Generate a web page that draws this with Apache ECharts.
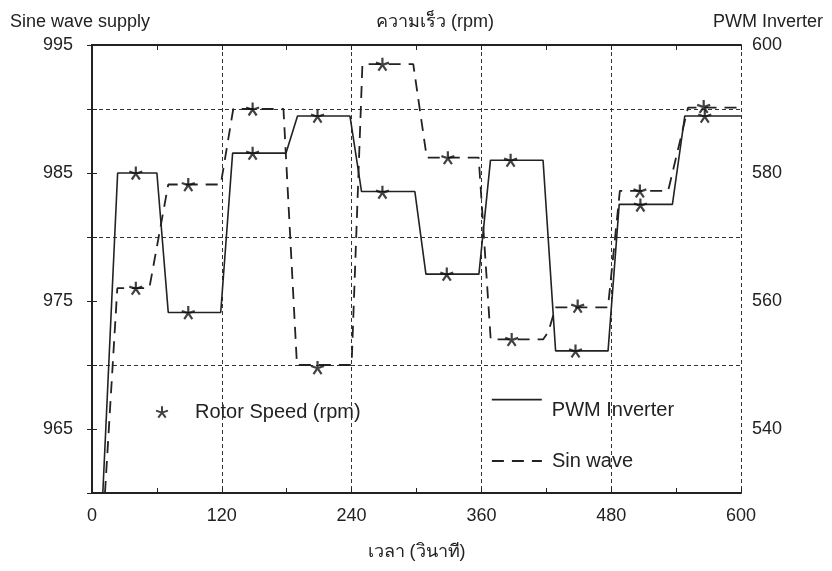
<!DOCTYPE html>
<html>
<head>
<meta charset="utf-8">
<script src="https://cdn.jsdelivr.net/npm/echarts@6/dist/echarts.min.js"></script>
<style>html,body{margin:0;padding:0;background:#fff}#c{width:832px;height:571px}</style>
</head>
<body>
<div id="c"></div>
<script>
// ---- data (time in seconds, speed in rpm) ----
// PWM Inverter (right axis)
const pwmTime  = [10, 23.7, 60, 70.5, 119, 130, 179.3, 190, 238.5, 249.2, 298.5, 308.7, 357.7, 368.4, 417, 428.6, 477.1, 487.4, 536.6, 548, 600];
const pwmSpeed = [530, 580, 580, 558.2, 558.2, 583.1, 583.1, 588.9, 588.9, 577.1, 577.1, 564.2, 564.2, 582, 582, 552.2, 552.2, 575.1, 575.1, 588.9, 588.9];
// Sine wave supply (left axis)
const sinTime  = [12, 23.4, 53, 70.5, 119, 130.6, 177, 189.5, 240, 250, 297, 309.5, 357.5, 368.6, 417, 422, 428.5, 477, 488, 532.6, 551, 600];
const sinSpeed = [960, 976, 976, 984.1, 984.1, 990, 990, 970, 970, 993.5, 993.5, 986.2, 986.2, 972, 972, 972.6, 974.5, 974.5, 983.6, 983.6, 990.1, 990.1];
// Rotor speed markers
const rotorSinTime  = [40.5, 89, 148.5, 208.5, 268.5, 329, 388, 449, 506.5, 565.5];
const rotorSinSpeed = [976, 984.1, 990, 969.8, 993.5, 986.2, 972, 974.6, 983.6, 990.2];
const rotorPwmTime  = [40.5, 89, 148.5, 208.5, 268.5, 328, 387, 447, 507, 566.5];
const rotorPwmSpeed = [580, 558.2, 583.1, 588.9, 577, 564.2, 582, 552.2, 575, 588.9];
// tick labels
const xTickLabels = [0, 120, 240, 360, 480, 600];
const leftTickLabels = [965, 975, 985, 995];
const rightTickLabels = [540, 560, 580, 600];

const zip = (a, b) => a.map((v, i) => [v, b[i]]);
const INK = '#222';
const FONT = '"Liberation Sans", Arial, Helvetica, "Noto Sans", sans-serif';
const STAR = 'path://M0,-10L0,0M0,0L9.51,-3.09M0,0L5.88,8.09M0,0L-5.88,8.09M0,0L-9.51,-3.09';

const chart = echarts.init(document.getElementById('c'), null, {renderer: 'canvas'});
const tickStyle = {inside: true, length: 5, lineStyle: {color: INK, width: 1}};
const axisLineStyle = {show: true, lineStyle: {color: INK, width: 2}};
const labelStyle = {color: INK, fontSize: 18, fontFamily: FONT};
const gridLine = {show: true, lineStyle: {color: '#333', width: 1, type: [4, 3]}};
const titleStyle = {fontSize: 18, fontWeight: 'normal', color: INK, fontFamily: FONT};

chart.setOption({
  animation: false,
  backgroundColor: '#fff',
  textStyle: {fontFamily: FONT},
  title: [
    {text: 'Sine wave supply', left: 5, top: 8, textStyle: titleStyle},
    {text: 'ความเร็ว (rpm)', left: 430, top: 8, textAlign: 'center', textStyle: titleStyle},
    {text: 'PWM Inverter', right: 4, top: 8, textStyle: titleStyle}
  ],
  grid: {left: 92, right: 91, top: 45, bottom: 78, containLabel: false},
  legend: [
    {data: ['Rotor Speed (rpm)'], left: 150, top: 397, selectedMode: false, itemWidth: 12, itemHeight: 12,
     formatter: '{t|{name}}',
     textStyle: {color: INK, fontFamily: FONT, rich: {t: {fontSize: 20, color: INK, fontFamily: FONT, padding: [0, 0, 0, 22]}}}},
    {data: ['PWM Inverter'], left: 486, top: 389, selectedMode: false, itemWidth: 50, itemHeight: 14,
     itemStyle: {opacity: 0}, lineStyle: {width: 1.6},
     formatter: '{t|{name}}',
     textStyle: {color: INK, fontFamily: FONT, rich: {t: {fontSize: 20, color: INK, fontFamily: FONT, padding: [22, 0, 0, 5]}}}},
    {data: ['Sin wave'], left: 486, top: 446, selectedMode: false, itemWidth: 50, itemHeight: 14,
     itemStyle: {opacity: 0}, lineStyle: {width: 1.8},
     formatter: '{t|{name}}',
     textStyle: {color: INK, fontFamily: FONT, rich: {t: {fontSize: 20, color: INK, fontFamily: FONT, padding: [0, 0, 0, 5]}}}}
  ],
  xAxis: [
    {type: 'value', min: 0, max: 600, interval: 120, position: 'bottom',
     name: 'เวลา (วินาที)', nameLocation: 'middle', nameGap: 50,
     nameTextStyle: {fontSize: 18, color: INK, fontFamily: FONT},
     axisLine: axisLineStyle, axisTick: tickStyle,
     minorTick: {show: true, splitNumber: 2, length: 5, lineStyle: {color: INK, width: 1}},
     axisLabel: Object.assign({margin: 14, formatter: v => xTickLabels.includes(v) ? String(v) : ''}, labelStyle),
     splitLine: gridLine},
    {type: 'value', min: 0, max: 600, interval: 120, position: 'top',
     axisLine: axisLineStyle, axisTick: tickStyle,
     minorTick: {show: true, splitNumber: 2, length: 5, lineStyle: {color: INK, width: 1}},
     axisLabel: {show: false}, splitLine: {show: false}}
  ],
  yAxis: [
    {type: 'value', min: 960, max: 995, interval: 5, position: 'left',
     axisLine: axisLineStyle, axisTick: tickStyle,
     axisLabel: Object.assign({margin: 19, formatter: v => leftTickLabels.includes(v) ? String(v) : ''}, labelStyle),
     splitLine: {show: false}},
    {type: 'value', min: 530, max: 600, interval: 10, position: 'right',
     axisLine: axisLineStyle, axisTick: tickStyle,
     axisLabel: Object.assign({margin: 11, formatter: v => rightTickLabels.includes(v) ? String(v) : ''}, labelStyle),
     splitLine: {show: false}},
    {type: 'value', min: 530, max: 600, interval: 20, position: 'right',
     axisLine: {show: false}, axisTick: {show: false}, axisLabel: {show: false},
     splitLine: gridLine}
  ],
  series: [
    {name: 'PWM Inverter', type: 'line', xAxisIndex: 0, yAxisIndex: 1, data: zip(pwmTime, pwmSpeed),
     symbol: 'none', lineStyle: {color: INK, width: 1.6}, itemStyle: {color: INK}, z: 3},
    {name: 'Sin wave', type: 'line', xAxisIndex: 0, yAxisIndex: 0, data: zip(sinTime, sinSpeed),
     symbol: 'none', lineStyle: {color: INK, width: 1.8, type: [12, 8]}, itemStyle: {color: INK}, z: 3},
    {name: 'Rotor Speed (rpm)', type: 'scatter', xAxisIndex: 0, yAxisIndex: 0, data: zip(rotorSinTime, rotorSinSpeed),
     symbol: STAR, symbolSize: 13, itemStyle: {color: 'rgba(0,0,0,0)', borderColor: '#111', borderWidth: 2.2}, z: 4},
    {name: 'Rotor Speed (rpm)', type: 'scatter', xAxisIndex: 0, yAxisIndex: 1, data: zip(rotorPwmTime, rotorPwmSpeed),
     symbol: STAR, symbolSize: 13, itemStyle: {color: 'rgba(0,0,0,0)', borderColor: '#111', borderWidth: 2.2}, z: 4}
  ]
});
</script>
</body>
</html>
